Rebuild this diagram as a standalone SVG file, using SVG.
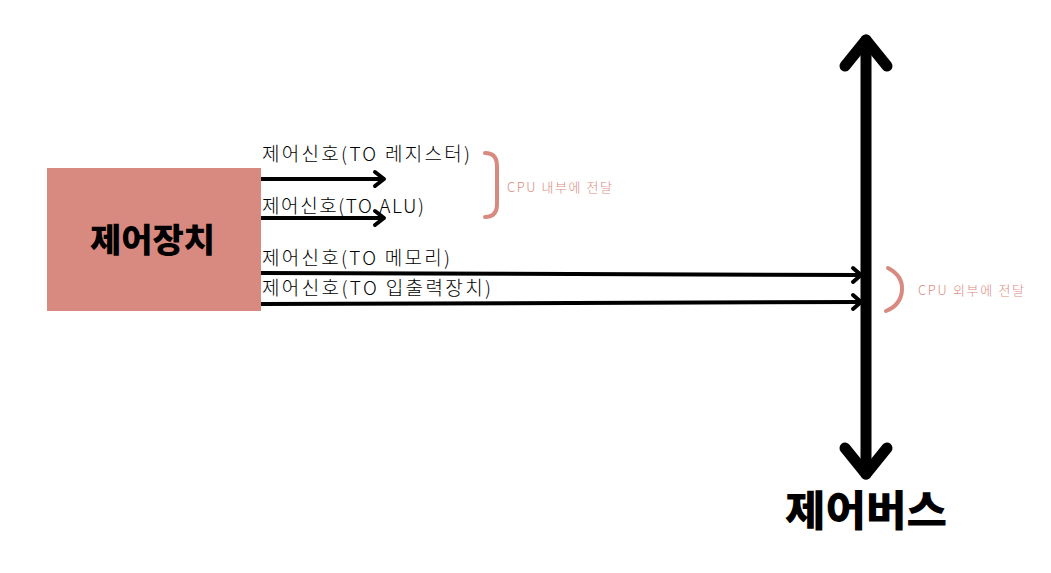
<svg xmlns="http://www.w3.org/2000/svg" width="1051" height="573" viewBox="0 0 1051 573">
<defs>
<style>
.lbl{font-family:"Noto Sans CJK KR","Noto Sans",sans-serif;font-size:19px;fill:#000;font-weight:300}
.note{font-family:"Noto Sans CJK KR","Noto Sans",sans-serif;font-size:13px;fill:#d98a80;font-weight:300}
.big{font-family:"Noto Sans CJK KR",sans-serif;font-weight:900;fill:#000}
.sig{stroke:#000;stroke-width:4;fill:none}
.head{stroke:#000;stroke-width:4;fill:none;stroke-linecap:round;stroke-linejoin:round}
.brace{stroke:#d98a80;stroke-width:4;fill:none;stroke-linecap:round}
.bus{stroke:#000;stroke-width:11;fill:none;stroke-linecap:round;stroke-linejoin:round}
</style>
</defs>
<rect width="1051" height="573" fill="#fff"/>
<g id="control-unit">
<rect x="47" y="168" width="214" height="143" fill="#d98a80"/>
<text class="big" x="90" y="252" font-size="33" textLength="125" lengthAdjust="spacingAndGlyphs">제어장치</text>
</g>
<g id="control-bus">
<path class="bus" d="M866,40 L866,474"/>
<path class="bus" d="M845,66 L866,40 L887,66"/>
<path class="bus" d="M845,448 L866,474 L887,448"/>
<text class="big" x="785" y="526" font-size="42" textLength="162" lengthAdjust="spacingAndGlyphs">제어버스</text>
</g>
<g id="connectors">
<path class="sig" d="M261,179 L383,179"/>
<path class="head" d="M375,172 L384,179 L375,186"/>
<path class="sig" d="M261,218 L383,218"/>
<path class="head" d="M375,211 L384,218 L375,225"/>
<path class="sig" d="M261,273 L860,275"/>
<path class="head" d="M853,268 L861,275 L853,282"/>
<path class="sig" d="M261,304 L860,302"/>
<path class="head" d="M853,295 L861,302 L853,309"/>
</g>
<g id="labels">
<text class="lbl" x="262" y="161" textLength="208" lengthAdjust="spacing">제어신호(TO 레지스터)</text>
<text class="lbl" x="262" y="213" textLength="162" lengthAdjust="spacing">제어신호(TO ALU)</text>
<text class="lbl" x="262" y="265" textLength="188" lengthAdjust="spacing">제어신호(TO 메모리)</text>
<text class="lbl" x="262" y="295" textLength="229" lengthAdjust="spacing">제어신호(TO 입출력장치)</text>
</g>
<g id="inner-note">
<path class="brace" d="M485,153 Q497,153 497,166 L497,204 Q497,217 485,217"/>
<text class="note" x="507" y="192" textLength="105" lengthAdjust="spacing">CPU 내부에 전달</text>
</g>
<g id="outer-note">
<path class="brace" d="M888,268 Q903,276 902,290 Q901,305 886,311"/>
<text class="note" x="918" y="295" textLength="106" lengthAdjust="spacing">CPU 외부에 전달</text>
</g>
</svg>
